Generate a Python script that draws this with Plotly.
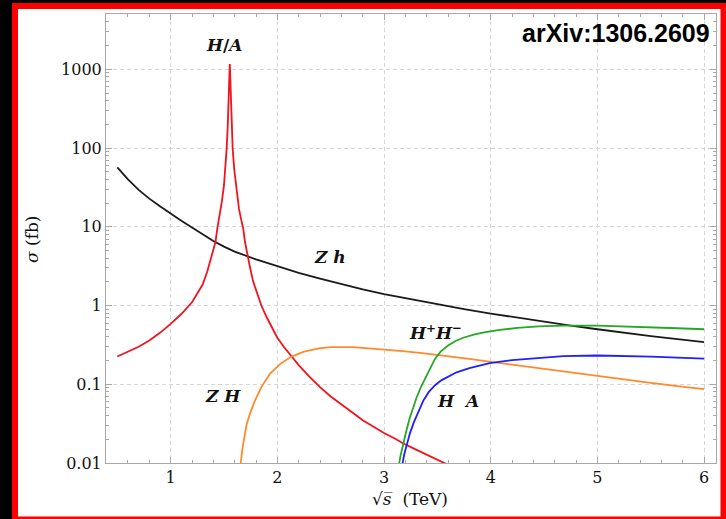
import plotly.graph_objects as go

# Z h (black)
zh_x = [0.5, 0.6, 0.7, 0.8, 0.9, 1.0, 1.1, 1.2, 1.3, 1.4, 1.5, 1.6, 1.8, 2.0, 2.2, 2.4, 2.6, 2.8, 3.0,
        3.25, 3.5, 3.75, 4.0, 4.25, 4.5, 4.75, 5.0, 5.25, 5.5, 5.75, 6.0]
zh_y = [57, 40, 29.5, 22.8, 18.2, 14.6, 11.9, 9.8, 8.1, 6.6, 5.6, 4.85, 3.85, 3.15, 2.6, 2.2, 1.88, 1.6, 1.4,
        1.2, 1.03, 0.9, 0.79, 0.70, 0.62, 0.555, 0.50, 0.45, 0.41, 0.375, 0.342]

# H/A resonance (red)
ha_res_x = [0.5, 0.6, 0.7, 0.8, 0.9, 1.0, 1.1, 1.2, 1.25, 1.3, 1.343, 1.37, 1.40, 1.42, 1.437, 1.46, 1.48,
            1.50, 1.515, 1.525, 1.535, 1.543, 1.548, 1.552, 1.554, 1.556, 1.560, 1.565, 1.573, 1.581,
            1.595, 1.615, 1.64, 1.66, 1.68, 1.696, 1.72, 1.745, 1.774, 1.81, 1.85, 1.90, 1.95, 2.0, 2.06,
            2.134, 2.2, 2.3, 2.4, 2.5, 2.6, 2.7, 2.8, 2.9, 3.0, 3.1, 3.177, 3.3, 3.4, 3.5, 3.57, 3.65]
ha_res_y = [0.225, 0.26, 0.30, 0.36, 0.45, 0.585, 0.78, 1.1, 1.4, 1.85, 2.7, 3.6, 4.8, 6.4, 9.5, 14, 21,
            34, 58, 100, 190, 380, 700, 1050, 1170, 1050, 700, 380, 190, 100,
            55, 30, 17, 12.5, 9.5, 6.5, 4.2, 3.0, 2.0, 1.45, 1.0, 0.71, 0.52, 0.39, 0.30,
            0.225, 0.175, 0.125, 0.092, 0.07, 0.055, 0.044, 0.035, 0.029, 0.024, 0.0205, 0.0178, 0.0148,
            0.0128, 0.011, 0.01, 0.0088]

# Z H (orange)
zH_x = [1.65, 1.656, 1.67, 1.69, 1.712, 1.75, 1.79, 1.85, 1.93, 2.03, 2.134, 2.25, 2.4, 2.5, 2.6, 2.7, 2.8,
        3.0, 3.2, 3.4, 3.6, 3.8, 4.0, 4.25, 4.5, 4.75, 5.0, 5.25, 5.5, 5.75, 6.0]
zH_y = [0.008, 0.01, 0.0145, 0.021, 0.031, 0.045, 0.062, 0.092, 0.136, 0.183, 0.225, 0.26, 0.287, 0.296,
        0.298, 0.296, 0.29, 0.277, 0.262, 0.245, 0.228, 0.21, 0.193, 0.174, 0.157, 0.14, 0.126, 0.114,
        0.104, 0.095, 0.087]

# H+ H- (green)
hpm_x = [3.138, 3.142, 3.155, 3.17, 3.19, 3.21, 3.24, 3.27, 3.305, 3.35, 3.40, 3.44, 3.477, 3.53, 3.6,
         3.67, 3.742, 3.85, 3.95, 4.086, 4.25, 4.45, 4.68, 5.0, 5.25, 5.5, 5.75, 6.0]
hpm_y = [0.008, 0.01, 0.0125, 0.0155, 0.02, 0.026, 0.037, 0.05, 0.068, 0.095, 0.13, 0.17, 0.21, 0.26,
         0.31, 0.355, 0.39, 0.43, 0.46, 0.49, 0.52, 0.545, 0.557, 0.555, 0.545, 0.53, 0.515, 0.50]

# H A (blue)
hA_x = [3.17, 3.174, 3.19, 3.21, 3.243, 3.28, 3.32, 3.368, 3.42, 3.48, 3.54, 3.587, 3.68, 3.8, 3.99, 4.2,
        4.45, 4.68, 5.0, 5.25, 5.5, 5.75, 6.0]
hA_y = [0.008, 0.01, 0.013, 0.017, 0.024, 0.033, 0.045, 0.062, 0.08, 0.098, 0.113, 0.123, 0.142, 0.16,
        0.185, 0.203, 0.218, 0.228, 0.232, 0.229, 0.224, 0.218, 0.212]

x_ticks = [1, 2, 3, 4, 5, 6]
y_ticks = [0.01, 0.1, 1, 10, 100, 1000]
y_tick_text = ["0.01", "0.1", "1", "10", "100", "1000"]

series = [
    (zh_x, zh_y, "#1a1a1a"),
    (ha_res_x, ha_res_y, "#f0141e"),
    (zH_x, zH_y, "#ff8a2b"),
    (hpm_x, hpm_y, "#26a826"),
    (hA_x, hA_y, "#1f1fff"),
]

fig = go.Figure()
for xs, ys, c in series:
    fig.add_trace(go.Scatter(x=xs, y=ys, mode="lines", line=dict(color=c, width=1.8),
                             showlegend=False, hoverinfo="skip"))

L, R, T, B = 106, 10, 14, 56
W, H = 726, 519
pw, ph = W - L - R, H - T - B

def px2paper(px, py):
    return (px - L) / pw, (H - B - py) / ph

shapes = []
x0, y1 = px2paper(12, 3)
x1, y0 = px2paper(735, 530)
shapes.append(dict(type="rect", xref="paper", yref="paper", x0=x0, x1=x1, y0=y0, y1=y1,
                   fillcolor="#ff0000", line=dict(width=0), layer="below"))
x0, y1 = px2paper(18, 9)
x1, y0 = px2paper(720.5, 516.5)
shapes.append(dict(type="rect", xref="paper", yref="paper", x0=x0, x1=x1, y0=y0, y1=y1,
                   fillcolor="#ffffff", line=dict(width=0), layer="below"))

lab_font = dict(family="DejaVu Serif", size=17, color="#111111")
annotations = [
    dict(x=1.50, y=3.309, text="<b><i>H</i>/<i>A</i></b>"),
    dict(x=2.493, y=0.615, text="<b><i>Z h</i></b>"),
    dict(x=3.486, y=-0.338, text="<b><i>H</i><sup>+</sup><i>H</i><sup>−</sup></b>"),
    dict(x=3.693, y=-1.215, text="<b><i>H  A</i></b>"),
    dict(x=1.49, y=-1.151, text="<b><i>Z H</i></b>"),
]
for a in annotations:
    a.update(xref="x", yref="y", showarrow=False, font=lab_font, xanchor="center", yanchor="middle")

ax_, ay_ = px2paper(712, 33)
annotations.append(dict(xref="paper", yref="paper", x=ax_, y=ay_, xanchor="right", yanchor="middle",
                        text="<b>arXiv:1306.2609</b>", showarrow=False,
                        font=dict(family="Liberation Sans", size=25, color="#000000")))
tx, ty = px2paper(410, 499)
annotations.append(dict(xref="paper", yref="paper", x=tx, y=ty, xanchor="center", yanchor="middle",
                        text="√<i>s̅</i>  (TeV)", showarrow=False,
                        font=dict(family="DejaVu Serif", size=17, color="#111111")))
sx, sy = px2paper(32, 240)
annotations.append(dict(xref="paper", yref="paper", x=sx, y=sy, xanchor="center", yanchor="middle",
                        text="<i>σ</i> (fb)", showarrow=False, textangle=-90,
                        font=dict(family="DejaVu Serif", size=17, color="#111111")))

axis_common = dict(showline=True, linecolor="#a8a8a8", linewidth=1, mirror="ticks",
                   ticks="inside", ticklen=6, tickcolor="#a8a8a8",
                   showgrid=True, gridcolor="#d6d6d6", griddash="4px,3px", gridwidth=1,
                   zeroline=False, tickfont=dict(family="DejaVu Serif", size=16, color="#111111"))

fig.update_layout(
    width=W, height=H, margin=dict(l=L, r=R, t=T, b=B),
    paper_bgcolor="#000000", plot_bgcolor="rgba(0,0,0,0)",
    shapes=shapes, annotations=annotations,
    xaxis=dict(range=[0.394, 6.111], tickvals=x_ticks, ticktext=[str(v) for v in x_ticks],
               minor=dict(dtick=0.2, ticks="inside", ticklen=3, tickcolor="#a8a8a8", showgrid=False),
               **axis_common),
    yaxis=dict(type="log", range=[-2.0, 3.703], tickvals=y_ticks, ticktext=y_tick_text,
               minor=dict(dtick="D1", ticks="inside", ticklen=3, tickcolor="#a8a8a8", showgrid=False),
               **axis_common),
)

fig.write_html("out.html")
